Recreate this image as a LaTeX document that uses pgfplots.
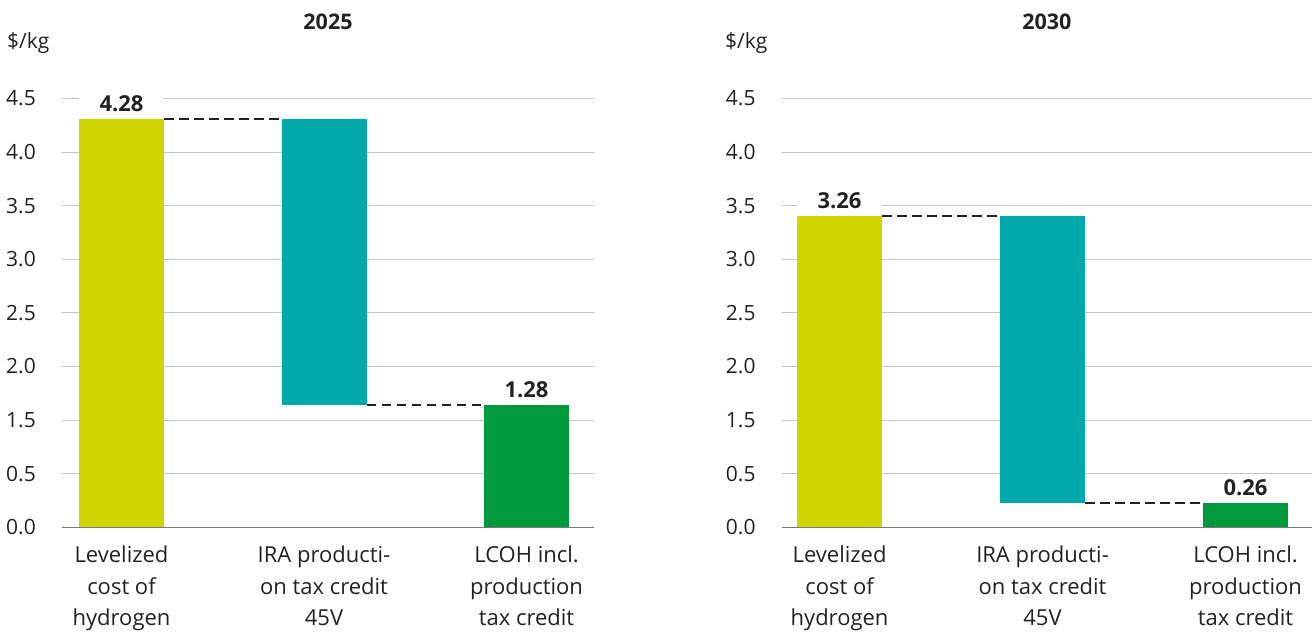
\documentclass[border=0pt]{standalone}
\usepackage{pgfplots}
\pgfplotsset{compat=1.18}
\usepackage{fontspec}
\setmainfont{Open Sans}
\definecolor{cyellow}{HTML}{CED500}
\definecolor{cteal}{HTML}{00AAAA}
\definecolor{cgreen}{HTML}{009A3E}
\definecolor{ctext}{HTML}{222222}
\definecolor{cgrid}{HTML}{C4C4C4}
\definecolor{caxis}{HTML}{7A7A7A}
\pgfplotsset{
  wf/.style={
    scale only axis, height=428.9bp, ymin=0, ymax=4,
    ybar stacked, bar width=85bp,
    enlargelimits=false, clip=false,
    axis x line*=bottom, axis y line*=left,
    x axis line style={-, caxis, line width=1.3bp},
    y axis line style={draw=none},
    ymajorgrids, grid style={cgrid, line width=1bp},
    ytick={0,0.5,1,1.5,2,2.5,3,3.5,4},
    yticklabels={0.0,0.5,1.5,2.0,2.5,3.0,3.5,4.0,4.5},
    xtick={0,1,2},
    xticklabels={{Levelized\\cost of\\hydrogen},{IRA producti-\\on tax credit\\45V},{LCOH incl.\\production\\tax credit}},
    major tick length=0pt,
    xtick style={draw=none}, ytick style={draw=none},
    yticklabel style={font=\fontsize{21bp}{31bp}\selectfont, text=ctext, anchor=east, inner sep=0pt, xshift=-26bp},
    xticklabel style={font=\fontsize{22bp}{31.3bp}\selectfont, text=ctext, anchor=north, align=center, inner sep=0pt, yshift=-18.5bp},
  },
  conn/.style={stack plots=false, sharp plot, ctext, line width=2.4bp, dash pattern=on 9.5bp off 5.5bp, forget plot},
}
\tikzset{
  vlab/.style={anchor=base, fill=white, minimum width=85bp, inner xsep=0pt, inner ysep=4bp, yshift=7.5bp,
    font=\fontsize{22bp}{25bp}\selectfont\bfseries, text=ctext},
}
\begin{document}
\begin{tikzpicture}
\path[use as bounding box] (0,0) rectangle (1312bp,633bp);
% ---------- 2025 ----------
\begin{axis}[wf, width=532bp, xmin=-0.2938, xmax=2.3333,
  at={(62bp,105.7bp)}, anchor=south west]
\addplot[fill=none, draw=none] coordinates {(0,0) (1,1.14) (2,0)};
\addplot[fill=cyellow, draw=none] coordinates {(0,3.809) (1,0) (2,0)};
\addplot[fill=cteal, draw=none] coordinates {(0,0) (1,2.669) (2,0)};
\addplot[fill=cgreen, draw=none] coordinates {(0,0) (1,0) (2,1.14)};
\addplot[conn] coordinates {(0.2099,3.809) (0.7901,3.809)};
\addplot[conn] coordinates {(1.2099,1.14) (1.7901,1.14)};
\node[vlab] at (axis cs:0,3.809) {4.28};
\node[vlab] at (axis cs:2,1.14) {1.28};
\node[anchor=base, font=\fontsize{21.5bp}{25bp}\selectfont\bfseries, text=ctext, yshift=69bp] at (rel axis cs:0.5,1) {2025};
\node[anchor=base west, inner sep=0pt, font=\fontsize{21bp}{25bp}\selectfont, text=ctext, xshift=-55bp, yshift=49.4bp] at (rel axis cs:0,1) {\$/kg};
\end{axis}
% ---------- 2030 ----------
\begin{axis}[wf, width=530.3bp, xmin=-0.285, xmax=2.3276,
  at={(781.7bp,105.7bp)}, anchor=south west]
\addplot[fill=none, draw=none] coordinates {(0,0) (1,0.227) (2,0)};
\addplot[fill=cyellow, draw=none] coordinates {(0,2.904) (1,0) (2,0)};
\addplot[fill=cteal, draw=none] coordinates {(0,0) (1,2.677) (2,0)};
\addplot[fill=cgreen, draw=none] coordinates {(0,0) (1,0) (2,0.227)};
\addplot[conn] coordinates {(0.2094,2.904) (0.7906,2.904)};
\addplot[conn] coordinates {(1.2094,0.227) (1.7906,0.227)};
\node[vlab] at (axis cs:0,2.904) {3.26};
\node[vlab] at (axis cs:2,0.227) {0.26};
\node[anchor=base, font=\fontsize{21.5bp}{25bp}\selectfont\bfseries, text=ctext, yshift=69bp] at (rel axis cs:0.5,1) {2030};
\node[anchor=base west, inner sep=0pt, font=\fontsize{21bp}{25bp}\selectfont, text=ctext, xshift=-56.7bp, yshift=49.4bp] at (rel axis cs:0,1) {\$/kg};
\end{axis}
\end{tikzpicture}
\end{document}
